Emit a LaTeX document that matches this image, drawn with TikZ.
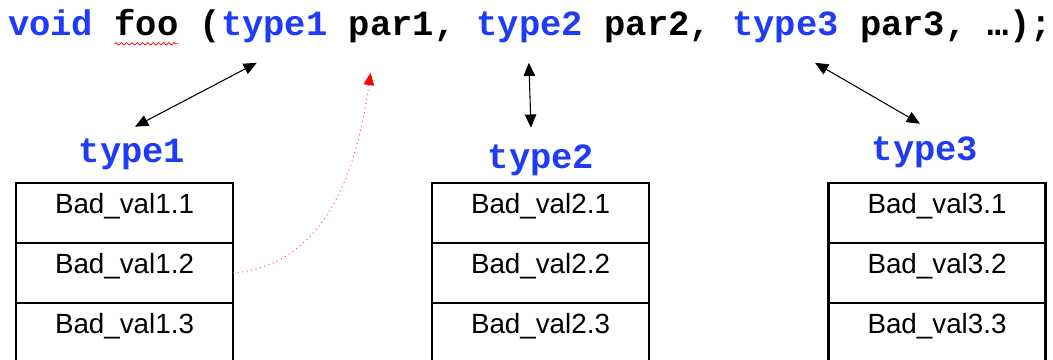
\documentclass[tikz,border=0pt]{standalone}
\usepackage{fontspec}
\setmainfont{Liberation Sans}
\setsansfont{Liberation Sans}
\setmonofont{Liberation Mono}
\usepackage{xcolor}
\usepackage{tikz}
\usetikzlibrary{arrows.meta}
\usetikzlibrary{positioning}
\usetikzlibrary{fit}
\usetikzlibrary{decorations.pathmorphing}
\definecolor{kwblue}{RGB}{30,60,245}
\definecolor{dotred}{RGB}{255,90,90}
\tikzstyle{code} = [inner sep=0, outer sep=0, font=\ttfamily\bfseries\fontsize{20.2}{24}\selectfont, text height=14pt, text depth=4pt]
\tikzstyle{kw} = [code, text=kwblue]
\tikzstyle{row} = [rectangle, draw, line width=0.6pt, outer sep=0, inner xsep=0, inner ysep=0,
minimum width=4.34cm, minimum height=1.2cm, text height=0.45cm, text depth=0.41cm, font=\sffamily\fontsize{15.8}{18}\selectfont]
\tikzstyle{outer} = [rectangle, draw, line width=1.4pt, inner sep=0]
\tikzstyle{line} = [draw, line width=0.6pt, {Triangle[length=7.5pt,width=6.5pt]}-{Triangle[length=7.5pt,width=6.5pt]}]
\tikzstyle{redline} = [draw, dotred, line width=0.6pt, dotted, -{Triangle[length=7pt,width=6pt,color=red,fill=red]}]
\tikzstyle{squig} = [draw, red, line width=0.4pt, decorate, decoration={snake, amplitude=0.7pt, segment length=3pt}]

\begin{document}
\begin{tikzpicture}
	\useasboundingbox (0,0) rectangle (21.06,7.2);
	\clip (0,0) rectangle (21.06,7.2);
	\node [kw, anchor=west] at (0.16,6.67) (void) {void};
	\node [code, right=12.12pt of void] (foo) {foo};
	\node [code, right=12.12pt of foo] (lp) {(};
	\node [kw, right=0pt of lp] (t1) {type1};
	\node [code, right=12.12pt of t1] (p1) {par1,};
	\node [kw, right=12.12pt of p1] (t2) {type2};
	\node [code, right=12.12pt of t2] (p2) {par2,};
	\node [kw, right=12.12pt of p2] (t3) {type3};
	\node [code, right=12.12pt of t3] (p3) {par3,};
	\node [code, right=12.12pt of p3] (rest) {…);};
	\path [squig] ([yshift=-0.03cm]foo.south west) -- ([yshift=-0.03cm]foo.south east);
	\node [kw] at (2.64,4.12) (lab1) {type1};
	\node [kw] at (10.82,4.0) (lab2) {type2};
	\node [kw] at (18.5,4.16) (lab3) {type3};
	\node [row] at (2.49,2.94) (r11) {Bad\_val1.1};
	\node [row, below=0pt of r11] (r12) {Bad\_val1.2};
	\node [row, below=0pt of r12] (r13) {Bad\_val1.3};
	\node [row] at (10.81,2.94) (r21) {Bad\_val2.1};
	\node [row, below=0pt of r21] (r22) {Bad\_val2.2};
	\node [row, below=0pt of r22] (r23) {Bad\_val2.3};
	\node [row] at (18.74,2.94) (r31) {Bad\_val3.1};
	\node [row, below=0pt of r31] (r32) {Bad\_val3.2};
	\node [row, below=0pt of r32] (r33) {Bad\_val3.3};
	\node [outer, fit=(r11)(r13)] (box1) {};
	\node [outer, fit=(r21)(r23)] (box2) {};
	\node [outer, fit=(r31)(r33)] (box3) {};
	\path [line] ([xshift=0.06cm,yshift=0.23cm]lab1.north) -- ([xshift=-0.35cm,yshift=-0.41cm]t1.south);
	\path [line] ([xshift=-0.2cm,yshift=0.33cm]lab2.north) -- ([xshift=-0.02cm,yshift=-0.41cm]t2.south);
	\path [line] ([xshift=-0.1cm,yshift=0.25cm]lab3.north) -- ([xshift=0.59cm,yshift=-0.41cm]t3.south);
	\coordinate (p1tip) at ([xshift=-0.63cm,yshift=-0.61cm]p1.south);
	\path [redline] (r12.east) to[out=5,in=-98] (p1tip);
\end{tikzpicture}
\end{document}
